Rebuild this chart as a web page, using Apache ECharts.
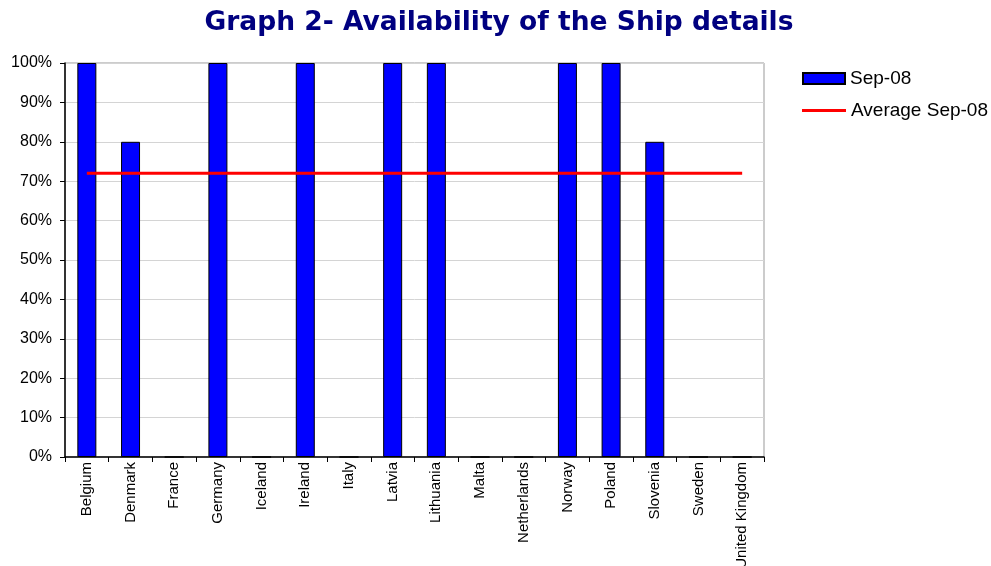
<!DOCTYPE html>
<html>
<head>
<meta charset="utf-8">
<script src="https://cdn.jsdelivr.net/npm/echarts@6/dist/echarts.min.js"></script>
<style>
  html, body { margin: 0; padding: 0; background: #fff; }
  #chart { width: 991px; height: 566px; }
</style>
</head>
<body>
<div id="chart"></div>
<script>
// 国家类别
const countries = ['Belgium', 'Denmark', 'France', 'Germany', 'Iceland', 'Ireland', 'Italy', 'Latvia',
  'Lithuania', 'Malta', 'Netherlands', 'Norway', 'Poland', 'Slovenia', 'Sweden', 'United Kingdom'];
// Sep-08 可用率(%)
const sep08 = [100, 80, 0, 100, 0, 100, 0, 100, 100, 0, 0, 100, 100, 80, 0, 0];
// 平均值
const averageSep08 = [72, 72, 72, 72, 72, 72, 72, 72, 72, 72, 72, 72, 72, 72, 72, 72];

const chart = echarts.init(document.getElementById('chart'));

const legendText = { fontFamily: 'Liberation Sans', fontSize: 19, color: '#000' };

const option = {
  animation: false,
  title: {
    text: 'Graph 2- Availability of the Ship details',
    left: 494,
    textAlign: 'center',
    top: 5,
    textStyle: {
      color: '#000080',
      fontFamily: 'DejaVu Sans',
      fontWeight: 'bold',
      fontSize: 26.5
    }
  },
  // 两个图例：柱状图标和线条图标高度不同
  legend: [
    {
      orient: 'vertical',
      left: 797,
      top: 64,
      itemWidth: 42,
      itemHeight: 11,
      textStyle: legendText,
      data: [{ name: 'Sep-08', icon: 'rect' }]
    },
    {
      orient: 'vertical',
      left: 797,
      top: 96,
      itemWidth: 44,
      itemHeight: 3,
      textStyle: legendText,
      data: [{ name: 'Average Sep-08', icon: 'rect' }]
    }
  ],
  grid: {
    left: 65,
    right: 227,
    top: 63,
    height: 394,
    outerBoundsMode: 'none',
    show: true,
    borderColor: '#999',
    borderWidth: 1
  },
  xAxis: {
    type: 'category',
    data: countries,
    axisLine: { lineStyle: { color: '#000', width: 1.5 } },
    axisTick: { show: true, length: 5, lineStyle: { color: '#000' } },
    axisLabel: {
      rotate: 90,
      interval: 0,
      margin: 5,
      color: '#000',
      fontFamily: 'Liberation Sans',
      fontSize: 15
    }
  },
  yAxis: {
    type: 'value',
    min: 0,
    max: 100,
    interval: 10,
    axisLine: { show: true, lineStyle: { color: '#000', width: 1.5 } },
    axisTick: { show: true, length: 5, lineStyle: { color: '#000' } },
    axisLabel: {
      formatter: '{value}%',
      color: '#000',
      fontFamily: 'Liberation Sans',
      fontSize: 16,
      margin: 13
    },
    splitLine: { lineStyle: { color: '#d4d4d4' } }
  },
  series: [
    {
      name: 'Sep-08',
      type: 'bar',
      data: sep08,
      barWidth: 19,
      itemStyle: { color: '#0000ff', borderColor: '#000', borderWidth: 1 }
    },
    {
      name: 'Average Sep-08',
      type: 'line',
      data: averageSep08,
      symbol: 'none',
      lineStyle: { color: '#ff0000', width: 3 },
      itemStyle: { color: '#ff0000' }
    }
  ]
};

chart.setOption(option);
</script>
</body>
</html>
